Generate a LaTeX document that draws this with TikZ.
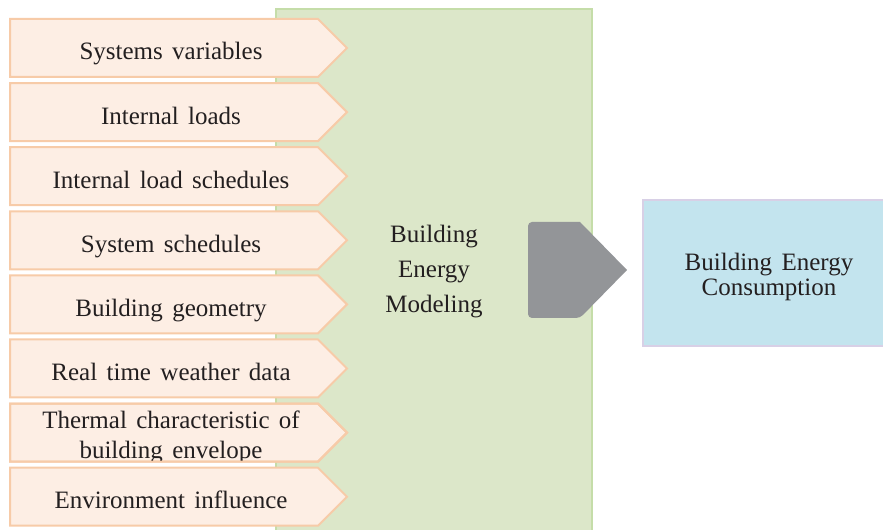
\documentclass[tikz,border=0pt]{standalone}
\usepackage{fontspec}
\setmainfont[WordSpace=1.5]{Liberation Serif}
\definecolor{gfill}{HTML}{DCE7C9}
\definecolor{gline}{HTML}{C5DDA9}
\definecolor{pfill}{HTML}{FDEEE4}
\definecolor{pline}{HTML}{F7CBA8}
\definecolor{grayarrow}{HTML}{939598}
\definecolor{bfill}{HTML}{C3E4EE}
\definecolor{bline}{HTML}{D8D0E6}
\definecolor{txt}{HTML}{231F20}
\tikzset{
  chevshape/.style={fill=pfill, draw=pline, line width=1.5pt},
  rowtext/.style={anchor=base, inner sep=0pt, text=txt, font=\fontsize{18.75pt}{22.5pt}\selectfont, align=center},
  bigtext/.style={inner sep=0pt, text=txt, align=center},
}
\newcommand\chevpath[1]{(10,#1) -- (318,#1) -- (347,#1+29) -- (318,#1+58) -- (10,#1+58) -- cycle}
\begin{document}
\begin{tikzpicture}[x=0.75pt,y=-0.75pt]
\useasboundingbox (0,0) rectangle (883,530);
% modelling block
\draw[fill=gfill, draw=gline, line width=1.2pt] (276,9) rectangle (592,540);
\node[bigtext, font=\fontsize{18.75pt}{26.25pt}\selectfont] (bem) at (434,272) {Building\\Energy\\Modeling};
% input chevrons
\foreach \t/\lab [count=\i] in {19/{Systems variables},83.1/{Internal loads},147.2/{Internal load schedules},211.3/{System schedules},275.4/{Building geometry},339.5/{Real time weather data},467.7/{Environment influence}}{
  \draw[chevshape] \chevpath{\t};
  \node[rowtext] (in\i) at (171,\t+41) {\lab};
}
\draw[chevshape] \chevpath{403.6};
\begin{scope}
  \clip \chevpath{403.6};
  \node[rowtext, anchor=center] (in8) at (171,437) {Thermal characteristic of\\building envelope};
\end{scope}
\draw[pline, line width=1.5pt] \chevpath{403.6};
% gray arrow
\fill[grayarrow, rounded corners=3pt] (580,222) -- (528,222) -- (528,318) -- (580,318) [sharp corners] -- (627,270) -- cycle;
\coordinate (arrowtip) at (627,270);
% output box
\draw[fill=bfill, draw=bline, line width=1.2pt] (643,200) rectangle (890,346);
\node[bigtext, font=\fontsize{18.75pt}{18.75pt}\selectfont] (out) at (769,277) {Building Energy\\Consumption};
\end{tikzpicture}
\end{document}
